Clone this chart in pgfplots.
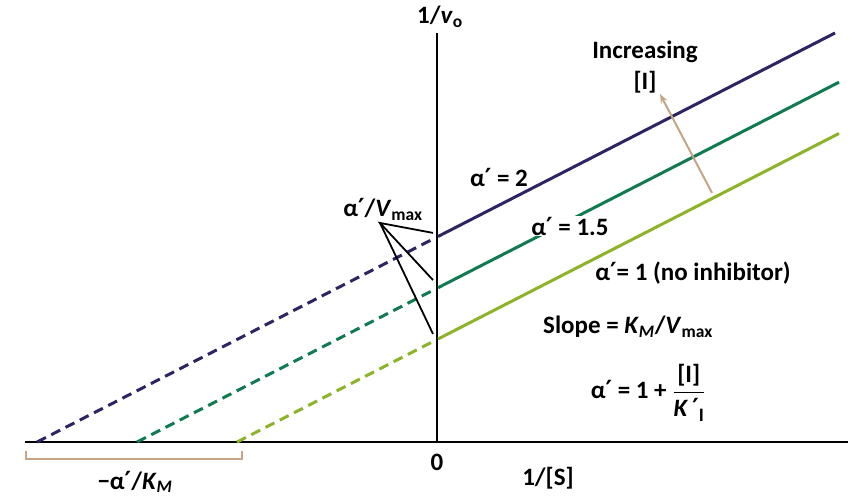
\documentclass[border=0pt]{standalone}
\usepackage{fontspec}
\setmainfont{Carlito}
\newfontfamily\dejavu{DejaVu Sans}
\newcommand{\pr}{{\dejavu ′}}
\usepackage{amsmath}
\usepackage{pgfplots}
\pgfplotsset{compat=1.18}
\usetikzlibrary{arrows.meta}

\definecolor{lbPurple}{RGB}{46,36,100}
\definecolor{lbGreen}{RGB}{16,122,80}
\definecolor{lbLime}{RGB}{140,180,42}
\definecolor{lbTan}{RGB}{196,165,132}

\begin{document}
\begin{tikzpicture}[font=\fontsize{25}{29}\selectfont\bfseries]
\begin{axis}[
  width=854pt, height=494pt, scale only axis,
  xmin=-4.37, xmax=4.17, ymin=-0.507, ymax=4.312,
  hide axis, clip=false,
]
\path (rel axis cs:0,0) rectangle (rel axis cs:1,1);

% axes
\draw[line width=2.5pt] (axis cs:-4.12,0) -- (axis cs:4.11,0);
\draw[line width=2.5pt] (axis cs:0,0) -- (axis cs:0,3.99);

% extrapolated (dashed) parts
\addplot[lbPurple, line width=3pt, dash pattern=on 10pt off 6pt] coordinates {(-4,0) (-0.05,1.975)};
\addplot[lbGreen, line width=3pt, dash pattern=on 10pt off 6pt] coordinates {(-3,0) (-0.05,1.475)};
\addplot[lbLime, line width=3pt, dash pattern=on 10pt off 6pt] coordinates {(-2,0) (-0.05,0.975)};

% measured (solid) parts
\addplot[lbPurple, line width=3pt] coordinates {(0.01,2.005) (3.98,3.99)};
\addplot[lbGreen, line width=3pt] coordinates {(0.01,1.505) (4.02,3.51)};
\addplot[lbLime, line width=3pt] coordinates {(0.01,1.005) (4.02,3.01)};

% bracket for x intercepts
\draw[lbTan, line width=2pt] (axis cs:-4.11,-0.085) -- (axis cs:-4.11,-0.166)
  -- (axis cs:-1.95,-0.166) -- (axis cs:-1.95,-0.085);

% pointers to y intercepts
\draw[line width=1.8pt] (axis cs:-0.04,2.04) -- (axis cs:-0.57,2.137) -- (axis cs:-0.04,1.58);
\draw[line width=1.8pt] (axis cs:-0.57,2.137) -- (axis cs:-0.04,1.054);

% increasing [I] arrow
\draw[lbTan, line width=2pt, -{Stealth[length=9pt,width=7pt]}] (axis cs:2.75,2.43) -- (axis cs:2.23,3.395);

% labels
\node at (axis cs:0.03,4.15) {1/\textit{v}\textsubscript{o}};
\node at (axis cs:0,-0.195) {0};
\node at (axis cs:1.11,-0.351) {1/[S]};
\node at (axis cs:-3.02,-0.39) {−α\pr/\textit{K}\textsubscript{\textit{M}}};
\node at (axis cs:-0.54,2.27) {α\pr/\textit{V}\textsubscript{max}};
\node at (axis cs:0.62,2.576) {α\pr\ = 2};
\node[fill=white, inner sep=1pt] at (axis cs:1.33,2.107) {α\pr\ = 1.5};
\node at (axis cs:2.56,1.649) {α\pr= 1 (no inhibitor)};
\node at (axis cs:1.91,1.122) {Slope = \textit{K}\textsubscript{\textit{M}}/\textit{V}\textsubscript{max}};
\node at (axis cs:2.11,0.48) {α\pr\ = 1 + $\genfrac{}{}{1.6pt}{0}{\text{[I]}}{\text{\textit{K}\,\pr\raisebox{-0.45ex}{\fontsize{19}{22}\selectfont I}}}$};
\node at (axis cs:2.08,3.805) {Increasing};
\node at (axis cs:2.08,3.51) {[I]};
\end{axis}
\end{tikzpicture}
\end{document}
